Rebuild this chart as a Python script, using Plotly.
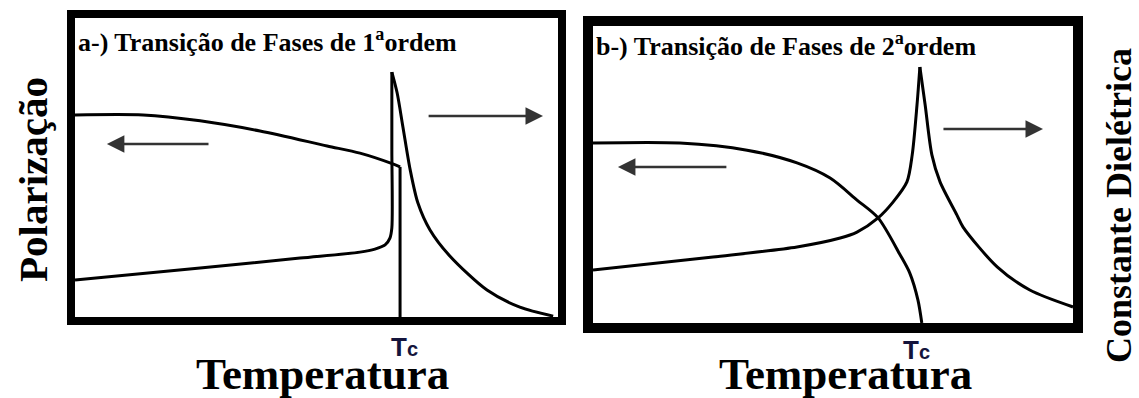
import plotly.graph_objects as go

# ---- Panel a (1st order) ----
pol_a_x = [0, 14.1, 25.9, 38.3, 52.2, 59.0, 65.8, 67.3]
pol_a_y = [67.6, 67.6, 65.6, 62.2, 57.2, 54.8, 51.2, 50.2]
pol_a_drop_x = [67.3, 67.3]
pol_a_drop_y = [50.2, 0]

die_a_left_x = [0, 25.9, 46.6, 59.0, 62.1, 64.2, 65.2, 65.6, 65.6, 65.6]
die_a_left_y = [12.4, 16.4, 19.7, 21.7, 22.7, 24.1, 26.4, 29.8, 55.9, 81.9]
die_a_right_x = [65.6, 66.7, 67.9, 69.4, 71.0, 73.5, 77.6, 85.3, 92.1, 99.0]
die_a_right_y = [81.9, 74.9, 63.5, 49.2, 38.1, 29.1, 20.4, 9.0, 3.3, 0.3]

# ---- Panel b (2nd order) ----
pol_b_x = [0, 18.1, 32.1, 42.5, 49.4, 55.0, 59.4, 64.0, 66.0, 67.7, 68.5]
pol_b_y = [60.6, 60.6, 58.2, 53.9, 48.8, 41.4, 35.4, 22.9, 16.8, 7.7, 0]

die_b_left_x = [0, 25.0, 42.5, 51.5, 55.0, 59.4, 62.5, 65.4, 66.5, 67.5, 68.1]
die_b_left_y = [17.8, 22.2, 25.6, 28.6, 30.6, 35.4, 40.7, 47.5, 56.6, 73.4, 86.2]
die_b_right_x = [68.1, 69.2, 70.6, 72.3, 75.8, 77.1, 84.2, 91.0, 100]
die_b_right_y = [86.2, 73.4, 56.6, 47.5, 36.4, 32.3, 18.9, 11.1, 5.4]

# arrows: [tail_x, head_x, y]
arrow_a_left = [27.95, 6.6, 57.9]
arrow_a_right = [72.9, 96.9, 67.2]
arrow_b_left = [28.1, 5.2, 52.5]
arrow_b_right = [72.7, 93.75, 65.3]

tc_a = 68.3
tc_b = 67.3

title_a = "a-) Transição de Fases de 1<sup>a</sup>ordem"
title_b = "b-) Transição de Fases de 2<sup>a</sup>ordem"
xlabel = "Temperatura"
ylabel_left = "Polarização"
ylabel_right = "Constante Dielétrica"

W, H = 1139, 398
fig = go.Figure()

line = dict(color="black", width=3)

def add(x, y, ax, ay, shape="spline"):
    fig.add_trace(go.Scatter(x=x, y=y, mode="lines", line=dict(line, shape=shape, smoothing=0.8),
                             xaxis=ax, yaxis=ay, showlegend=False, hoverinfo="skip"))

add(pol_a_x, pol_a_y, "x", "y")
add(pol_a_drop_x, pol_a_drop_y, "x", "y", "linear")
add(die_a_left_x, die_a_left_y, "x", "y")
add(die_a_right_x, die_a_right_y, "x", "y")
add(pol_b_x, pol_b_y, "x2", "y2")
add(die_b_left_x, die_b_left_y, "x2", "y2")
add(die_b_right_x, die_b_right_y, "x2", "y2")

# panel inner areas in pixels
pa = dict(l=75, r=558, t=18, b=317)
pb = dict(l=593, r=1073, t=26, b=323)

def dom(p):
    return [p["l"] / W, p["r"] / W], [1 - p["b"] / H, 1 - p["t"] / H]

ax_common = dict(range=[0, 100], showgrid=False, zeroline=False, showticklabels=False,
                 ticks="", showline=False, fixedrange=True)
dxa, dya = dom(pa)
dxb, dyb = dom(pb)
fig.update_layout(
    xaxis=dict(ax_common, domain=dxa),
    yaxis=dict(ax_common, domain=dya),
    xaxis2=dict(ax_common, domain=dxb, anchor="y2"),
    yaxis2=dict(ax_common, domain=dyb, anchor="x2"),
)

# frames
for (p, xr, yr, lw) in [(pa, "x", "y", 8), (pb, "x2", "y2", 10)]:
    w = p["r"] - p["l"]
    h = p["b"] - p["t"]
    fig.add_shape(type="rect", xref=f"{xr} domain", yref=f"{yr} domain",
                  x0=-(lw / 2) / w, x1=1 + (lw / 2) / w, y0=-(lw / 2) / h, y1=1 + (lw / 2) / h,
                  line=dict(color="black", width=lw), fillcolor="rgba(0,0,0,0)")

annotations = []
for (arr, xr, yr) in [(arrow_a_left, "x", "y"), (arrow_a_right, "x", "y"),
                      (arrow_b_left, "x2", "y2"), (arrow_b_right, "x2", "y2")]:
    annotations.append(dict(x=arr[1], y=arr[2], ax=arr[0], ay=arr[2], xref=xr, yref=yr,
                            axref=xr, ayref=yr, showarrow=True, arrowhead=2, arrowsize=1.4,
                            arrowwidth=2.5, arrowcolor="#333333", text=""))

serif = "Liberation Serif, Times New Roman, serif"
annotations += [
    dict(text="<b>" + title_a + "</b>", xref="paper", yref="paper", x=76 / W, y=1 - 41 / H,
         xanchor="left", yanchor="middle", showarrow=False, font=dict(family=serif, size=26, color="black")),
    dict(text="<b>" + title_b + "</b>", xref="paper", yref="paper", x=594 / W, y=1 - 45 / H,
         xanchor="left", yanchor="middle", showarrow=False, font=dict(family=serif, size=26, color="black")),
    dict(text="<b>" + xlabel + "</b>", xref="paper", yref="paper", x=322 / W, y=1 - 374 / H,
         xanchor="center", yanchor="middle", showarrow=False, font=dict(family=serif, size=45, color="black")),
    dict(text="<b>" + xlabel + "</b>", xref="paper", yref="paper", x=845 / W, y=1 - 374 / H,
         xanchor="center", yanchor="middle", showarrow=False, font=dict(family=serif, size=45, color="black")),
    dict(text="<b>" + ylabel_left + "</b>", xref="paper", yref="paper", x=33 / W, y=1 - 180 / H,
         xanchor="center", yanchor="middle", textangle=-90, showarrow=False,
         font=dict(family=serif, size=41, color="black")),
    dict(text="<b>" + ylabel_right + "</b>", xref="paper", yref="paper", x=1119 / W, y=1 - 206 / H,
         xanchor="center", yanchor="middle", textangle=-90, showarrow=False,
         font=dict(family=serif, size=36, color="black")),
    dict(text="<b>T<span style='font-size:20px'>c</span></b>", xref="x", yref="paper", x=tc_a, y=1 - 347 / H,
         xanchor="center", yanchor="middle", showarrow=False,
         font=dict(family="Liberation Sans, Arial, sans-serif", size=26, color="#14143c")),
    dict(text="<b>T<span style='font-size:20px'>c</span></b>", xref="x2", yref="paper", x=tc_b, y=1 - 350 / H,
         xanchor="center", yanchor="middle", showarrow=False,
         font=dict(family="Liberation Sans, Arial, sans-serif", size=26, color="#14143c")),
]

fig.update_layout(width=W, height=H, margin=dict(l=0, r=0, t=0, b=0),
                  paper_bgcolor="white", plot_bgcolor="white", annotations=annotations)

fig.write_html("out.html", config={"displayModeBar": False},
               post_script="document.body.style.margin='0';document.body.style.overflow='hidden';")
